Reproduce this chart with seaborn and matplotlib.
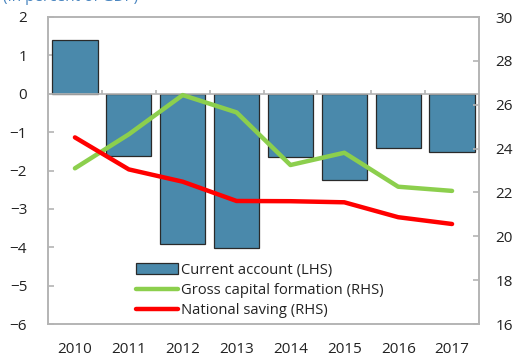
import numpy as np
import pandas as pd
import matplotlib
matplotlib.use("Agg")
import matplotlib.pyplot as plt
import seaborn as sns
from matplotlib.lines import Line2D
from matplotlib.patches import Patch

years = ["2010", "2011", "2012", "2013", "2014", "2015", "2016", "2017"]
current_account = [1.4, -1.61, -3.91, -4.03, -1.65, -2.24, -1.41, -1.51]
gross_capital_formation = [23.1, 24.65, 26.44, 25.65, 23.25, 23.81, 22.26, 22.07]
national_saving = [24.51, 23.05, 22.49, 21.61, 21.6, 21.55, 20.87, 20.56]

sns.set_theme(style="white")
plt.rcParams["font.family"] = ["Open Sans", "DejaVu Sans"]

bar_color = "#4a89ab"
green = "#8ccf4d"
red = "#ff0000"
frame = "#b4b4b4"
text_color = "#222222"

df = pd.DataFrame({
    "year": years,
    "pos": np.arange(len(years)),
    "ca": current_account,
    "gcf": gross_capital_formation,
    "ns": national_saving,
})

fig = plt.figure(figsize=(5.18, 3.56), dpi=100)
ax = fig.add_axes([48 / 518, 1 - 324 / 356, (479 - 48) / 518, (324 - 17) / 356])

sns.barplot(data=df, x="pos", y="ca", color=bar_color, width=0.84,
            edgecolor="#2a2a2a", linewidth=0.9, saturation=1, ax=ax, zorder=2)
ax.set_xlim(-0.5, len(years) - 0.5)
ax.set_ylim(-6, 2)
ax.set_yticks(np.arange(-6, 3, 1))
ax.set_xticks(np.arange(len(years)))
ax.set_xticklabels(years)
ax.set_xlabel("")
ax.set_ylabel("")

# zero line with small boundary ticks between years
ax.axhline(0, color=frame, lw=1.2, zorder=3)
boundaries = np.arange(len(years) - 1) + 0.5
for b in boundaries:
    ax.plot([b, b], [0, 0.1], color=frame, lw=1.2, zorder=3, solid_capstyle="butt")

ax2 = ax.twinx()
sns.lineplot(data=df, x="pos", y="gcf", color=green, lw=3.2, ax=ax2, zorder=4)
sns.lineplot(data=df, x="pos", y="ns", color=red, lw=3.2, ax=ax2, zorder=5)
ax2.set_ylim(16, 30)
ax2.set_yticks(np.arange(16, 31, 2))
ax2.set_xlim(-0.5, len(years) - 0.5)
ax2.set_ylabel("")
ax2.set_xlabel("")

for a in (ax, ax2):
    for s in a.spines.values():
        s.set_color(frame)
        s.set_linewidth(1.2)
    a.grid(False)

ax.tick_params(axis="y", direction="in", length=4, color=frame, width=1.2,
               labelsize=11, labelcolor=text_color, pad=15)
ax.tick_params(axis="x", length=0, labelsize=11, labelcolor=text_color, pad=13)
ax2.tick_params(axis="y", direction="in", length=4, color=frame, width=1.2,
                labelsize=11, labelcolor=text_color, pad=12)

handles = [
    Patch(facecolor=bar_color, edgecolor="#2a2a2a", linewidth=0.9),
    Line2D([], [], color=green, lw=3.2),
    Line2D([], [], color=red, lw=3.2),
]
labels = ["Current account (LHS)", "Gross capital formation (RHS)", "National saving (RHS)"]
leg = ax2.legend(handles, labels, loc="lower left", bbox_to_anchor=(0.19, 0.0),
                 frameon=False, fontsize=10.6, handlelength=2.9, handletextpad=0.15,
                 labelspacing=0.36, borderaxespad=0)
for t in leg.get_texts():
    t.set_color(text_color)

fig.text(0.005, 1 - 1 / 356, "(In percent of GDP)", color="#4a86c0", fontsize=11,
         va="baseline", ha="left")

fig.savefig("out.png", dpi=100)
